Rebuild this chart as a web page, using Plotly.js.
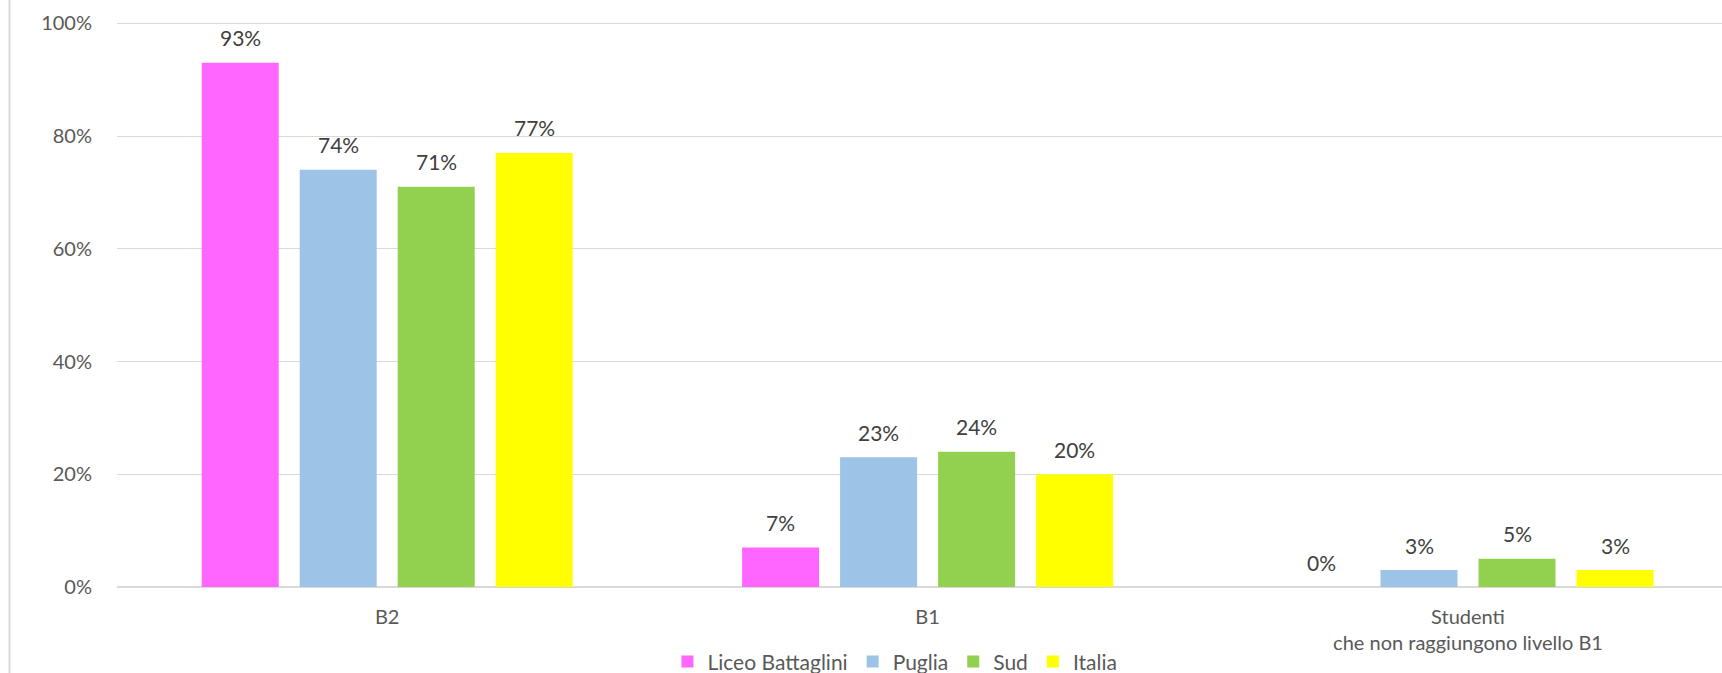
<!DOCTYPE html>
<html><head><meta charset="utf-8">
<script src="https://cdn.plot.ly/plotly-3.0.1.min.js"></script>
<style>html,body{margin:0;padding:0;background:#fff;overflow:hidden}#chart{width:1722px;height:673px}</style>
</head><body><div id="chart"></div>
<script>
const categories = ['B2', 'B1', 'Studenti<br>che non raggiungono livello B1'];
const seriesNames = ['Liceo Battaglini', 'Puglia', 'Sud', 'Italia'];
const liceo  = [0.93, 0.07, 0.00];
const puglia = [0.74, 0.23, 0.03];
const sud    = [0.71, 0.24, 0.05];
const italia = [0.77, 0.20, 0.03];
const yTickVals = [0, 0.2, 0.4, 0.6, 0.8, 1.0];

const colors = ['#FF66FF', '#9DC3E6', '#92D050', '#FFFF00'];
const FONT = 'Lato, "Open Sans", sans-serif';
const BARGAP = 0.2746, GROUPGAP = 0.2143;
const series = [liceo, puglia, sud, italia];

const traces = series.map((vals, i) => ({
  type: 'bar', name: seriesNames[i], x: categories, y: vals,
  marker: {color: colors[i]}, hoverinfo: 'skip'
}));

const slot = (1 - BARGAP) / series.length;
const annotations = [];
series.forEach((vals, i) => {
  const off = (i - (series.length - 1) / 2) * slot;
  vals.forEach((v, j) => annotations.push({
    x: j + off, y: v, xref: 'x', yref: 'y',
    text: Math.round(v * 100) + '%', showarrow: false,
    yshift: 25, yanchor: 'middle', xanchor: 'center',
    font: {family: FONT, size: 21, color: '#404040'}
  }));
});

const layout = {
  width: 1722, height: 673,
  margin: {l: 117, r: 0, t: 12, b: 86, pad: 0, autoexpand: false},
  paper_bgcolor: '#ffffff', plot_bgcolor: '#ffffff',
  barmode: 'group', bargap: BARGAP, bargroupgap: GROUPGAP,
  font: {family: FONT, color: '#595959', size: 20},
  xaxis: {
    type: 'category', range: [-0.5, 2.47], showgrid: false, zeroline: false, showline: false,
    ticks: 'outside', ticklen: 12, tickcolor: 'rgba(0,0,0,0)',
    tickfont: {family: FONT, size: 20, color: '#595959'}, fixedrange: true
  },
  yaxis: {
    range: [0, 1.02], tickmode: 'array', tickvals: yTickVals, tickformat: '.0%',
    showgrid: true, gridcolor: '#d9d9d9', gridwidth: 1,
    zeroline: true, zerolinecolor: '#d9d9d9', zerolinewidth: 1.5,
    ticks: 'outside', ticklen: 20, tickcolor: 'rgba(0,0,0,0)',
    tickfont: {family: FONT, size: 20, color: '#595959'}, fixedrange: true
  },
  showlegend: true,
  legend: {
    orientation: 'h', x: 0.4847, xanchor: 'center', y: -0.13, yanchor: 'middle',
    font: {family: FONT, size: 21, color: '#595959'}, traceorder: 'normal'
  },
  shapes: [{type: 'line', xref: 'paper', yref: 'paper', x0: -0.067, x1: -0.067, y0: -0.2, y1: 1.1,
            line: {color: '#d9d9d9', width: 2}}],
  annotations: annotations
};

Plotly.newPlot('chart', traces, layout, {staticPlot: true, displayModeBar: false});
</script>
</body></html>
